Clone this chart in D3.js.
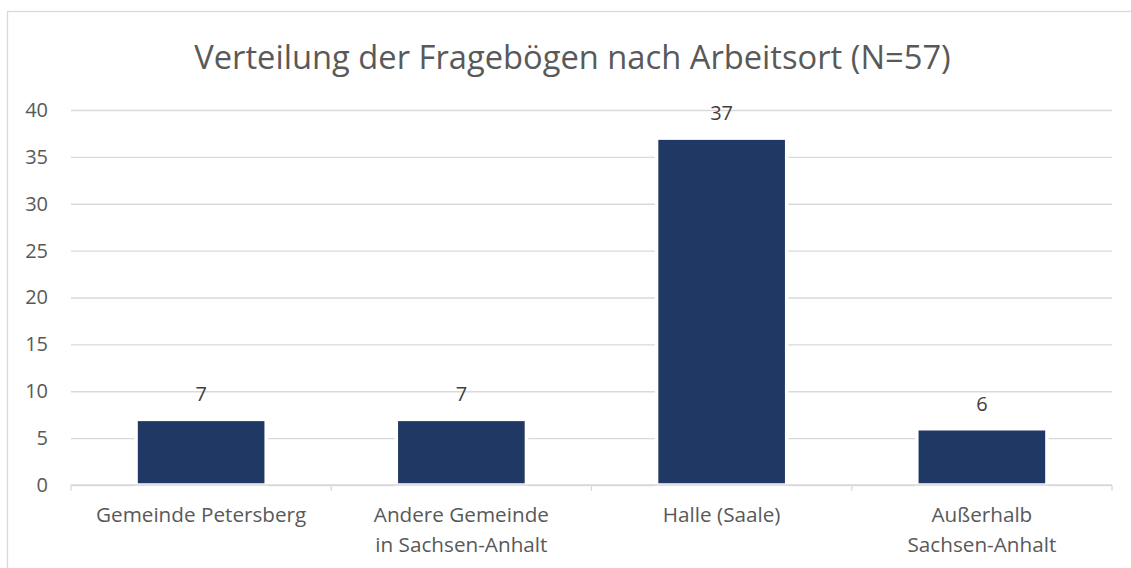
<!DOCTYPE html>
<html>
<head>
<meta charset="utf-8">
<script src="https://cdn.jsdelivr.net/npm/d3@7"></script>
<style>
  body { margin: 0; background: #fff; }
  text { font-family: "Open Sans", sans-serif; }
</style>
</head>
<body>
<div id="chart"></div>
<script>
// data
var categories = ["Gemeinde Petersberg", "Andere Gemeinde in Sachsen-Anhalt", "Halle (Saale)", "Außerhalb Sachsen-Anhalt"];
var tickLabels = [["Gemeinde Petersberg"], ["Andere Gemeinde", "in Sachsen-Anhalt"], ["Halle (Saale)"], ["Außerhalb", "Sachsen-Anhalt"]];
var values = [7, 7, 37, 6];
var yTicks = [0, 5, 10, 15, 20, 25, 30, 35, 40];
var title = "Verteilung der Fragebögen nach Arbeitsort (N=57)";

var W = 1131, H = 568;
var margin = {top: 110, right: 19, bottom: 83, left: 71},
    width = W - margin.left - margin.right,
    height = H - margin.top - margin.bottom;

var root = d3.select("#chart")
  .append("svg")
    .attr("width", W)
    .attr("height", H);

// chart border (right/bottom edge run off the picture)
root.append("rect")
  .attr("x", 7.5)
  .attr("y", 11.5)
  .attr("width", 1131)
  .attr("height", 600)
  .attr("fill", "none")
  .attr("stroke", "#d9d9d9")
  .attr("stroke-width", 1.3);

root.append("text")
  .attr("x", 572.5)
  .attr("y", 69)
  .attr("text-anchor", "middle")
  .style("font-size", "32.7px")
  .style("fill", "#595959")
  .text(title);

var svg = root.append("g")
  .attr("transform", "translate(" + margin.left + "," + margin.top + ")");

// scales
var x = d3.scaleBand()
  .range([0, width])
  .domain(categories)
  .paddingInner(0.5)
  .paddingOuter(0.25);

var y = d3.scaleLinear()
  .domain([0, 40])
  .range([height, 0]);

// Y axis + gridlines
var yAxis = svg.append("g")
  .call(d3.axisLeft(y).tickValues(yTicks).tickSize(-width).tickPadding(23));
yAxis.select(".domain").remove();
yAxis.selectAll(".tick line")
  .attr("stroke", "#d9d9d9")
  .attr("stroke-width", 1.3);
yAxis.selectAll(".tick text")
  .style("font-size", "20px")
  .style("font-family", "'Open Sans', sans-serif")
  .attr("fill", "#595959");

// bars
svg.selectAll("mybar")
  .data(values)
  .enter()
  .append("rect")
    .attr("x", function(d, i) { return x(categories[i]); })
    .attr("width", x.bandwidth())
    .attr("y", function(d) { return y(d); })
    .attr("height", function(d) { return height - y(d); })
    .attr("fill", "#203864")
    .attr("stroke", "#fff")
    .attr("stroke-width", 3.5);

// data labels
svg.selectAll("vlabel")
  .data(values)
  .enter()
  .append("text")
    .attr("x", function(d, i) { return x(categories[i]) + x.bandwidth() / 2; })
    .attr("y", function(d) { return y(d) - 18; })
    .attr("text-anchor", "middle")
    .style("font-size", "20px")
    .style("fill", "#404040")
    .text(function(d) { return d; });

// X axis: baseline with ticks at category boundaries
var off = x.step() * x.paddingOuter();
var bounds = categories.map(function(c) { return x(c) - off; }).concat([width]);
var xg = svg.append("g").attr("transform", "translate(0," + height + ")");
xg.append("line")
  .attr("x1", 0).attr("x2", width)
  .attr("stroke", "#d9d9d9").attr("stroke-width", 1.3);
xg.selectAll("xt")
  .data(bounds)
  .enter()
  .append("line")
    .attr("x1", function(d) { return d; })
    .attr("x2", function(d) { return d; })
    .attr("y1", 0).attr("y2", 6)
    .attr("stroke", "#d9d9d9").attr("stroke-width", 1.3);

xg.selectAll("xl")
  .data(tickLabels)
  .enter()
  .append("text")
    .attr("x", function(d, i) { return x(categories[i]) + x.bandwidth() / 2; })
    .attr("y", 37)
    .attr("text-anchor", "middle")
    .style("font-size", "20.7px")
    .style("fill", "#595959")
    .each(function(lines) {
      var t = d3.select(this);
      lines.forEach(function(l, j) {
        t.append("tspan")
          .attr("x", t.attr("x"))
          .attr("dy", j === 0 ? 0 : 30)
          .text(l);
      });
    });
</script>
</body>
</html>
